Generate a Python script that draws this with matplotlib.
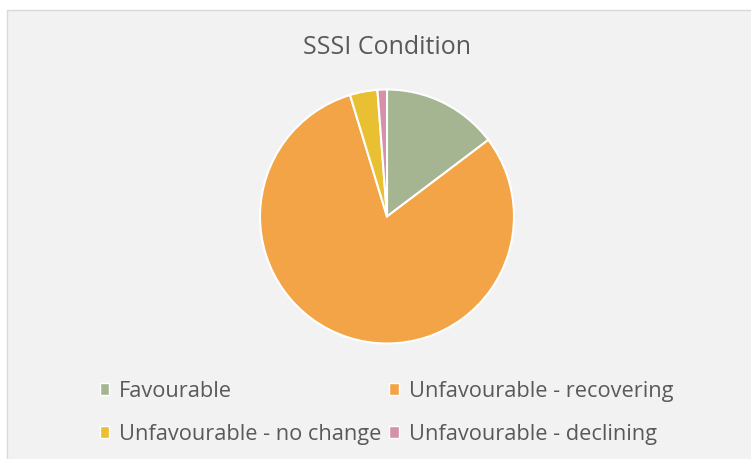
import matplotlib.pyplot as plt
from matplotlib.patches import Rectangle, Patch

labels = ["Favourable", "Unfavourable - recovering",
          "Unfavourable - no change", "Unfavourable - declining"]
values = [14.7, 80.6, 3.5, 1.2]
colors = ["#a5b592", "#f3a447", "#e8c032", "#d690a9"]

plt.rcParams['font.family'] = ['Open Sans', 'DejaVu Sans']

W, H = 751, 459
fig = plt.figure(figsize=(W / 100, H / 100), dpi=100)
fig.patch.set_facecolor("white")
fig.patches.append(Rectangle((7 / W, -0.01), 1, 1 - 10 / H + 0.01,
                             transform=fig.transFigure, facecolor="#f2f2f2",
                             edgecolor="#d9d9d9", linewidth=1, zorder=-5))

cx, cy, r = 387, 216.5, 127
ax = fig.add_axes([(cx - r) / W, (H - cy - r) / H, 2 * r / W, 2 * r / H])
wedges, _ = ax.pie(values, colors=colors, startangle=90, counterclock=False,
                   wedgeprops=dict(edgecolor="white", linewidth=1.5))
ax.set_xlim(-1, 1)
ax.set_ylim(-1, 1)
ax.set_aspect("equal")

fig.text(cx / W, 1 - 47 / H, "SSSI Condition", ha="center", va="center",
         fontsize=18, color="#595959")

order = [0, 2, 1, 3]
handles = [Patch(facecolor=colors[i], edgecolor="white") for i in order]
leg = fig.legend(handles, [labels[i] for i in order], ncol=2,
                 loc="center left", bbox_to_anchor=(80 / W, 1 - 413 / H),
                 frameon=False, fontsize=15.7, labelcolor="#595959",
                 handlelength=0.45, handleheight=0.45, handletextpad=0.45,
                 columnspacing=0.35, labelspacing=1.0)

fig.savefig("out.png", dpi=100)
